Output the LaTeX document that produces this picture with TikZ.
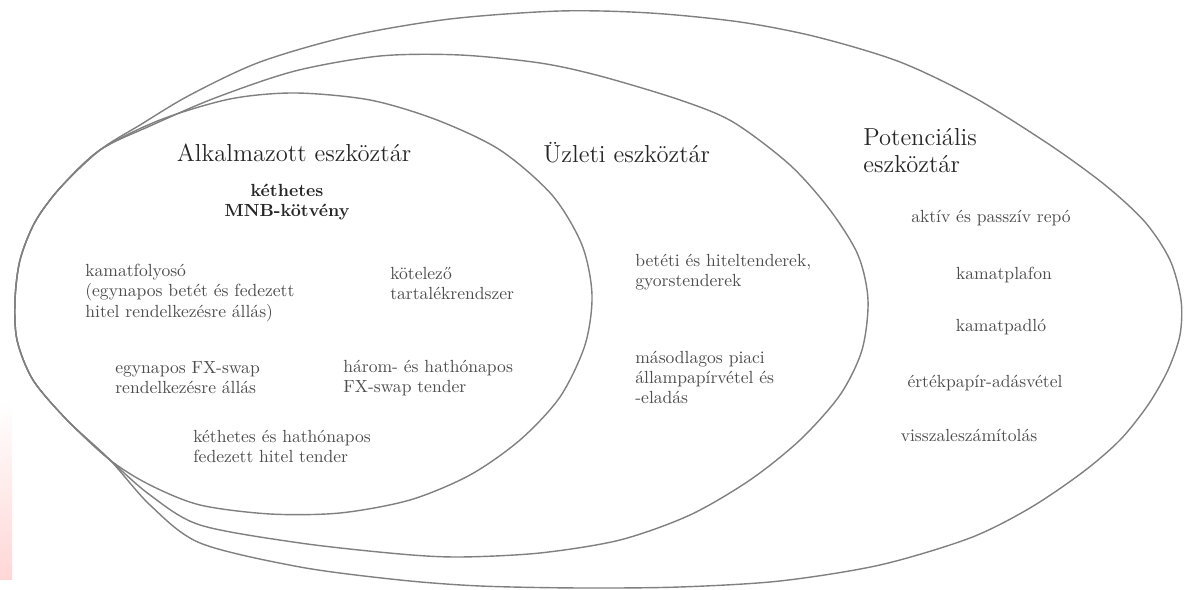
\documentclass[tikz,border=0pt]{standalone}
\begin{document}
\begin{tikzpicture}[x=0.02cm,y=-0.02cm,
	halmaz/.style={draw=black!50, line width=0.8pt},
	cim/.style={font=\fontsize{14}{15.4}\selectfont, text=black!85, inner sep=0pt},
	elem/.style={font=\fontsize{10}{11.4}\selectfont, text=black!70, align=left, inner sep=0pt, anchor=west},
	kozep/.style={elem, anchor=center, align=center}]
	\useasboundingbox (0,0) rectangle (1184,590);
	\fill[top color=white, bottom color=red!16, draw=none] (0,400) rectangle (12,580);
	
	% potencialis
	\draw[halmaz] plot[smooth cycle] coordinates {(110,460) (67,420) (33,380) (17,340) (15,300) (20,260) (35,222) (60,188) (100,150) (140,125) (190,95) (260,62) (350,36) (450,19) (560,11) (650,13) (740,22) (817,37) (900,62) (975,98) (1050,145) (1105,185) (1145,222) (1170,260) (1181,300) (1180,335) (1168,370) (1148,405) (1120,440) (1083,472) (1030,508) (970,538) (880,565) (780,581) (680,587) (580,588) (480,586) (400,580) (300,567) (200,543) (150,505)};
	% uzleti
	\draw[halmaz] plot[smooth cycle] coordinates {(110,460) (67,420) (33,380) (17,340) (15,300) (20,260) (35,222) (60,188) (100,150) (150,126) (215,98) (295,71) (380,56) (460,55) (540,63) (600,76) (680,100) (733,122) (790,165) (830,210) (858,255) (868,300) (862,350) (840,395) (800,440) (750,480) (690,515) (620,540) (540,553) (460,557) (400,554) (300,543) (200,525) (150,495)};
	% alkalmazott
	\draw[halmaz] plot[smooth cycle] coordinates {(110,460) (67,420) (33,380) (17,340) (15,300) (20,260) (35,222) (60,188) (100,150) (160,120) (230,99) (295,93) (370,100) (437,120) (500,150) (552,195) (582,245) (592,295) (585,345) (560,397) (520,440) (470,475) (410,500) (340,513) (270,514) (200,505) (150,485)};
	
	\node[cim] (alk) at (294,153) {Alkalmazott eszköztár};
	\node[cim, anchor=west] (uzl) at (543,153) {Üzleti eszköztár};
	\node[cim, anchor=west, align=left] (pot) at (863,151) {Potenciális\\eszköztár};
	
	\node[kozep, font=\fontsize{10}{11.4}\selectfont\bfseries, text=black!85] (mnb) at (287,202) {kéthetes\\MNB-kötvény};
	\node[elem] (kf) at (85,293) {kamatfolyosó\\(egynapos betét és fedezett\\hitel rendelkezésre állás)};
	\node[elem] (kt) at (390,283) {kötelező\\tartalékrendszer};
	\node[elem] (fx1) at (115,378) {egynapos FX-swap\\rendelkezésre állás};
	\node[elem] (fx3) at (343,378) {három- és hathónapos\\FX-swap tender};
	\node[elem] (ft) at (193,446) {kéthetes és hathónapos\\fedezett hitel tender};
	
	\node[elem] (bt) at (635,272) {betéti és hiteltenderek,\\gyorstenderek};
	\node[elem] (ma) at (635,377) {másodlagos piaci\\állampapírvétel és\\-eladás};
	
	\node[kozep] (repo) at (991,218) {aktív és passzív repó};
	\node[kozep] (plafon) at (1004,275) {kamatplafon};
	\node[kozep] (padlo) at (1001,327) {kamatpadló};
	\node[kozep] (ertek) at (985,383) {értékpapír-adásvétel};
	\node[kozep] (viszl) at (969,435) {visszaleszámítolás};
\end{tikzpicture}
\end{document}
